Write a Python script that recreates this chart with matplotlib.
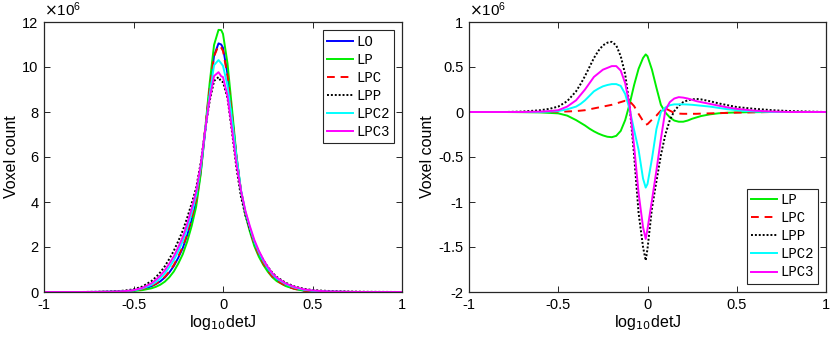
import matplotlib
matplotlib.use('Agg')
import matplotlib.pyplot as plt
from matplotlib.ticker import FormatStrFormatter

plt.rcParams['font.family'] = ['Liberation Sans', 'DejaVu Sans']
plt.rcParams['axes.unicode_minus'] = False

# x positions (log10 detJ)
x = [-1.0, -0.8, -0.7, -0.6, -0.55, -0.5, -0.45, -0.4, -0.375, -0.35, -0.325, -0.3,
     -0.275, -0.25, -0.225, -0.2, -0.175, -0.15, -0.125, -0.1, -0.075, -0.05, -0.025,
     -0.01, 0.0, 0.025, 0.05, 0.075, 0.1, 0.125, 0.15, 0.175, 0.2, 0.225, 0.25, 0.275,
     0.3, 0.35, 0.4, 0.45, 0.5, 0.55, 0.6, 0.7, 0.8, 1.0]

# voxel counts (x 1e6), left panel
lo = [0, 0, 0.004, 0.013, 0.028, 0.06, 0.125, 0.254, 0.35, 0.475, 0.645, 0.87,
      1.15, 1.52, 1.95, 2.52, 3.2, 4.0, 5.3, 7.1, 8.95, 10.5, 11.05,
      11.0, 10.85, 9.7, 7.9, 6.0, 4.5, 3.5, 2.78, 2.15, 1.68, 1.3, 0.98, 0.72,
      0.53, 0.29, 0.15, 0.07, 0.033, 0.016, 0.008, 0.002, 0, 0]
lp = [0, 0, 0.002, 0.008, 0.018, 0.045, 0.085, 0.164, 0.23, 0.325, 0.46, 0.655,
      0.91, 1.26, 1.675, 2.24, 2.935, 3.79, 5.21, 7.19, 9.25, 10.98, 11.65,
      11.64, 11.47, 10.17, 8.17, 6.08, 4.495, 3.44, 2.685, 2.042, 1.572, 1.205, 0.905, 0.66,
      0.485, 0.264, 0.136, 0.062, 0.028, 0.013, 0.006, 0.002, 0, 0]
lpc = [0, 0, 0.004, 0.013, 0.03, 0.063, 0.131, 0.264, 0.365, 0.495, 0.675, 0.91,
       1.20, 1.58, 2.02, 2.60, 3.295, 4.11, 5.425, 7.22, 9.015, 10.48, 10.95,
       10.86, 10.715, 9.615, 7.86, 6.015, 4.54, 3.515, 2.77, 2.132, 1.66, 1.28, 0.96, 0.70,
       0.512, 0.275, 0.138, 0.06, 0.026, 0.011, 0.005, 0.002, 0, 0]
lpp = [0, 0, 0.009, 0.033, 0.063, 0.12, 0.245, 0.484, 0.66, 0.875, 1.145, 1.47,
       1.83, 2.26, 2.72, 3.30, 3.94, 4.62, 5.72, 7.16, 8.47, 9.38, 9.55,
       9.35, 9.33, 8.63, 7.13, 5.52, 4.25, 3.41, 2.79, 2.22, 1.79, 1.43, 1.12, 0.865,
       0.67, 0.41, 0.245, 0.145, 0.088, 0.061, 0.043, 0.022, 0.01, 0]
lpc2 = [0, 0, 0.004, 0.013, 0.033, 0.07, 0.155, 0.314, 0.44, 0.605, 0.825, 1.10,
        1.41, 1.805, 2.25, 2.83, 3.51, 4.29, 5.5, 7.13, 8.75, 10.08, 10.31,
        10.16, 10.05, 9.18, 7.71, 6.0, 4.55, 3.575, 2.865, 2.235, 1.765, 1.383, 1.06, 0.795,
        0.60, 0.35, 0.195, 0.10, 0.053, 0.026, 0.013, 0.002, 0, 0]
lpc3 = [0, 0, 0.004, 0.018, 0.038, 0.08, 0.185, 0.384, 0.54, 0.725, 0.965, 1.26,
        1.58, 1.99, 2.44, 3.03, 3.71, 4.46, 5.62, 7.17, 8.57, 9.6, 9.77,
        9.59, 9.55, 8.72, 7.25, 5.7, 4.52, 3.61, 2.93, 2.315, 1.84, 1.45, 1.115, 0.84,
        0.64, 0.38, 0.22, 0.12, 0.068, 0.041, 0.023, 0.007, 0, 0]

# differences from LO (x 1e6), right panel
d_lp = [0, 0, -0.002, -0.005, -0.01, -0.015, -0.04, -0.09, -0.12, -0.15, -0.185, -0.215,
        -0.24, -0.26, -0.275, -0.28, -0.265, -0.21, -0.09, 0.09, 0.3, 0.48, 0.6,
        0.64, 0.62, 0.47, 0.27, 0.08, -0.005, -0.06, -0.095, -0.108, -0.108, -0.095, -0.075, -0.06,
        -0.045, -0.026, -0.014, -0.008, -0.005, -0.003, -0.002, 0, 0, 0]
d_lpc = [0, 0, 0, 0, 0.002, 0.003, 0.006, 0.01, 0.015, 0.02, 0.03, 0.04,
         0.05, 0.06, 0.07, 0.08, 0.095, 0.11, 0.125, 0.12, 0.065, -0.02, -0.1,
         -0.14, -0.135, -0.085, -0.04, 0.015, 0.04, 0.015, -0.01, -0.018, -0.02, -0.02, -0.02, -0.02,
         -0.018, -0.015, -0.012, -0.01, -0.007, -0.005, -0.003, 0, 0, 0]
d_lpp = [0, 0, 0.005, 0.02, 0.035, 0.06, 0.12, 0.23, 0.31, 0.40, 0.50, 0.60,
         0.68, 0.74, 0.77, 0.78, 0.74, 0.62, 0.42, 0.06, -0.48, -1.12, -1.5,
         -1.65, -1.52, -1.07, -0.77, -0.48, -0.25, -0.09, 0.01, 0.07, 0.11, 0.13, 0.14, 0.145,
         0.14, 0.12, 0.095, 0.075, 0.055, 0.045, 0.035, 0.02, 0.01, 0]
d_lpc2 = [0, 0, 0, 0, 0.005, 0.01, 0.03, 0.06, 0.09, 0.13, 0.18, 0.23,
          0.26, 0.285, 0.30, 0.31, 0.31, 0.29, 0.2, 0.03, -0.2, -0.42, -0.74,
          -0.84, -0.8, -0.52, -0.19, 0.0, 0.05, 0.075, 0.085, 0.085, 0.085, 0.083, 0.08, 0.075,
          0.07, 0.06, 0.045, 0.03, 0.02, 0.01, 0.005, 0, 0, 0]
d_lpc3 = [0, 0, 0, 0.005, 0.01, 0.02, 0.06, 0.13, 0.19, 0.25, 0.32, 0.39,
          0.43, 0.47, 0.49, 0.51, 0.51, 0.46, 0.32, 0.07, -0.38, -0.9, -1.28,
          -1.41, -1.3, -0.98, -0.65, -0.3, 0.02, 0.11, 0.15, 0.165, 0.16, 0.15, 0.135, 0.12,
          0.11, 0.09, 0.07, 0.05, 0.035, 0.025, 0.015, 0.005, 0, 0]

styles = {
    'LO': dict(color='#0000ff', linestyle='-'),
    'LP': dict(color='#00ee00', linestyle='-'),
    'LPC': dict(color='#ff0000', linestyle=(0, (4, 3))),
    'LPP': dict(color='black', linestyle=(0, (1, 1))),
    'LPC2': dict(color='#00ffff', linestyle='-'),
    'LPC3': dict(color='#ff00ff', linestyle='-'),
}

fig = plt.figure(figsize=(8.3, 3.41), dpi=100)
ax1 = fig.add_axes([44 / 830, 49 / 341, 358 / 830, 270 / 341])
ax2 = fig.add_axes([469 / 830, 49 / 341, 357 / 830, 270 / 341])

for name, vals in [('LO', lo), ('LP', lp), ('LPC', lpc), ('LPP', lpp),
                   ('LPC2', lpc2), ('LPC3', lpc3)]:
    ax1.plot(x, vals, lw=1.4, label=name, **styles[name])

for name, vals in [('LP', d_lp), ('LPC', d_lpc), ('LPP', d_lpp),
                   ('LPC2', d_lpc2), ('LPC3', d_lpc3)]:
    ax2.plot(x, vals, lw=1.4, label=name, **styles[name])

ax1.set_ylim(0, 12)
ax1.set_yticks([0, 2, 4, 6, 8, 10, 12])
ax2.set_ylim(-2, 1)
ax2.set_yticks([-2, -1.5, -1, -0.5, 0, 0.5, 1])

for ax in (ax1, ax2):
    ax.set_xlim(-1, 1)
    ax.set_xticks([-1, -0.5, 0, 0.5, 1])
    ax.xaxis.set_major_formatter(FormatStrFormatter('%g'))
    ax.yaxis.set_major_formatter(FormatStrFormatter('%g'))
    ax.tick_params(direction='in', top=True, right=True, length=4, width=0.7,
                   labelsize=10.5, colors='#262626', labelcolor='black', pad=4)
    for s in ax.spines.values():
        s.set_linewidth(0.9)
        s.set_color('#262626')
    ax.set_xlabel('log$_{10}$detJ', fontsize=11.5, labelpad=1)
    ax.set_ylabel('Voxel count', fontsize=11.5, labelpad=2)
    ax.text(0.0, 1.012, r'$\times\mathregular{10^6}$', transform=ax.transAxes,
            fontsize=11, ha='left', va='bottom')
    leg = ax.legend(loc='upper right' if ax is ax1 else 'lower right',
                    prop={'family': 'Liberation Mono', 'size': 10},
                    handlelength=1.9, handletextpad=0.2, labelspacing=0.3,
                    borderpad=0.3, borderaxespad=0.6, fancybox=False, framealpha=1)
    leg.get_frame().set_edgecolor('#262626')
    leg.get_frame().set_linewidth(0.8)

fig.savefig('out.png', dpi=100)
